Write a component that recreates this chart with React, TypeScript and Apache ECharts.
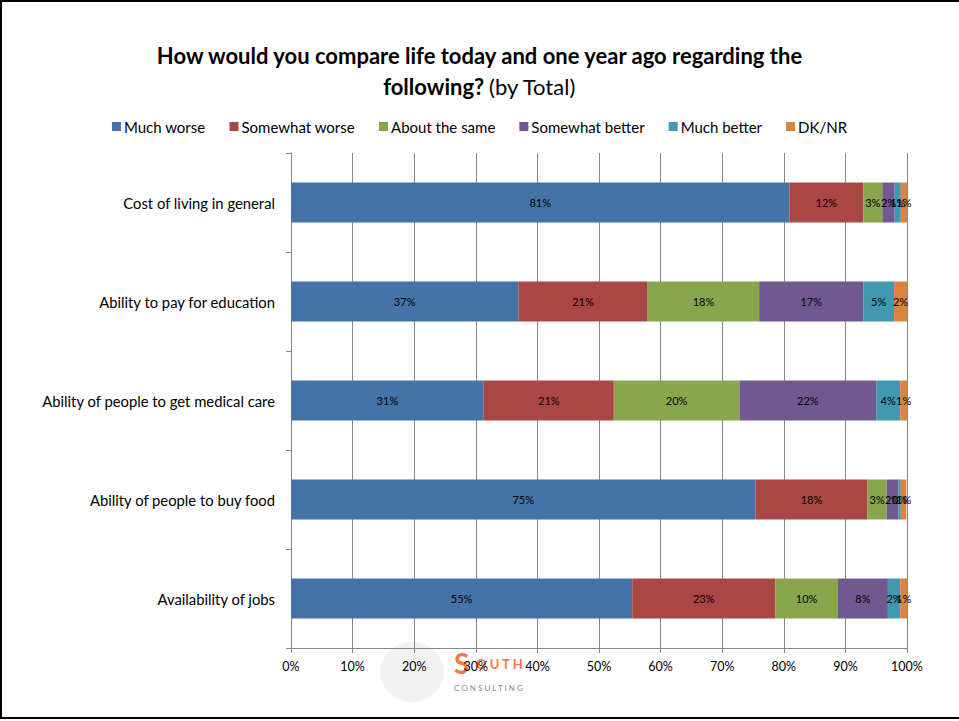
import React, { useEffect, useRef } from "react";
import * as echarts from "echarts";

const categories = [
  "Cost of living in general",
  "Ability to pay for education",
  "Ability of people to get medical care",
  "Ability of people to buy food",
  "Availability of jobs",
];
const seriesNames = ["Much worse", "Somewhat worse", "About the same", "Somewhat better", "Much better", "DK/NR"];
const muchWorse = [80.9, 36.9, 31.3, 75.4, 55.4];
const somewhatWorse = [12.0, 21.0, 21.1, 18.2, 23.2];
const aboutSame = [3.1, 18.1, 20.4, 3.1, 10.2];
const somewhatBetter = [2.0, 16.9, 22.2, 1.9, 8.1];
const muchBetter = [1.0, 5.0, 3.9, 0.4, 2.0];
const dknr = [1.0, 2.1, 1.1, 0.9, 1.1];
const xTicks = [0, 10, 20, 30, 40, 50, 60, 70, 80, 90, 100];
const colors = ["#4572A7", "#AA4643", "#89A54E", "#71588F", "#4198AF", "#DB843D"];

export default function App() {
  const ref = useRef<HTMLDivElement>(null);
  useEffect(() => {
    if (!ref.current) return;
    const chart = echarts.init(ref.current, null, { renderer: "svg" });
    const values = [muchWorse, somewhatWorse, aboutSame, somewhatBetter, muchBetter, dknr];
    const font = "Lato, 'Noto Sans', sans-serif";
    chart.setOption({
      animation: false,
      textStyle: { fontFamily: font },
      color: colors,
      title: {
        left: "center",
        top: 35,
        text: "{b|How would you compare life today and one year ago regarding the}\n{b|following?} {n|(by Total)}",
        textStyle: {
          rich: {
            b: { fontFamily: font, fontSize: 22, fontWeight: "bold", color: "#000", lineHeight: 31 },
            n: { fontFamily: font, fontSize: 22, fontWeight: "normal", color: "#000", lineHeight: 31 },
          },
        },
      },
      legend: {
        top: 114,
        left: "center",
        itemWidth: 9,
        itemHeight: 9,
        itemGap: 24,
        icon: "rect",
        textStyle: { fontFamily: font, fontSize: 15, color: "#000", padding: [0, 0, 0, -2] },
        data: seriesNames,
      },
      grid: { left: 291, right: 52, top: 153, bottom: 73, containLabel: false },
      xAxis: {
        type: "value",
        min: 0,
        max: 100,
        interval: 10,
        axisLine: { show: true, lineStyle: { color: "#868686" } },
        axisTick: { show: true, length: 5, lineStyle: { color: "#868686" } },
        axisLabel: {
          formatter: (v: number) => (xTicks.includes(v) ? v + "%" : ""),
          fontSize: 12.5,
          color: "#000",
          margin: 12,
          fontFamily: font,
        },
        splitLine: { show: true, lineStyle: { color: "#868686", width: 1 } },
      },
      yAxis: {
        type: "category",
        inverse: true,
        data: categories,
        axisLine: { show: true, lineStyle: { color: "#868686" } },
        axisTick: { show: true, length: 5, inside: false, lineStyle: { color: "#868686" } },
        axisLabel: { fontSize: 14.8, color: "#000", margin: 16, fontFamily: font },
      },
      graphic: [
        {
          type: "group",
          z: -10,
          silent: true,
          children: [
            { type: "ellipse", shape: { cx: 412, cy: 672, rx: 32, ry: 30 }, style: { fill: "#f2f2f2" } },
            { type: "text", x: 454, y: 649, style: { text: "S", fontSize: 28, fontWeight: "bold", fill: "#f47a4c", fontFamily: font } },
            { type: "text", x: 476, y: 657, style: { text: "O U T H", fontSize: 13, fontWeight: "bold", fill: "#f47a4c", fontFamily: font } },
            { type: "text", x: 454, y: 684, style: { text: "C O N S U L T I N G", fontSize: 8, fill: "#8a8a8a", fontFamily: font } },
          ],
        },
        {
          type: "rect",
          silent: true,
          shape: { x: 1, y: 1, width: 1000, height: 717 },
          style: { fill: "none", stroke: "#000", lineWidth: 2 },
        },
      ],
      series: seriesNames.map((name, i) => ({
        name,
        type: "bar",
        stack: "total",
        barWidth: 40,
        data: values[i],
        itemStyle: { color: colors[i] },
        label: {
          show: true,
          position: "inside",
          formatter: (p: any) => Math.round(p.value) + "%",
          fontSize: 11,
          color: "#000",
          fontFamily: font,
        },
      })),
    });
    return () => chart.dispose();
  }, []);
  return <div ref={ref} style={{ position: "absolute", left: 0, top: 0, width: 959, height: 721, background: "#fff" }} />;
}
